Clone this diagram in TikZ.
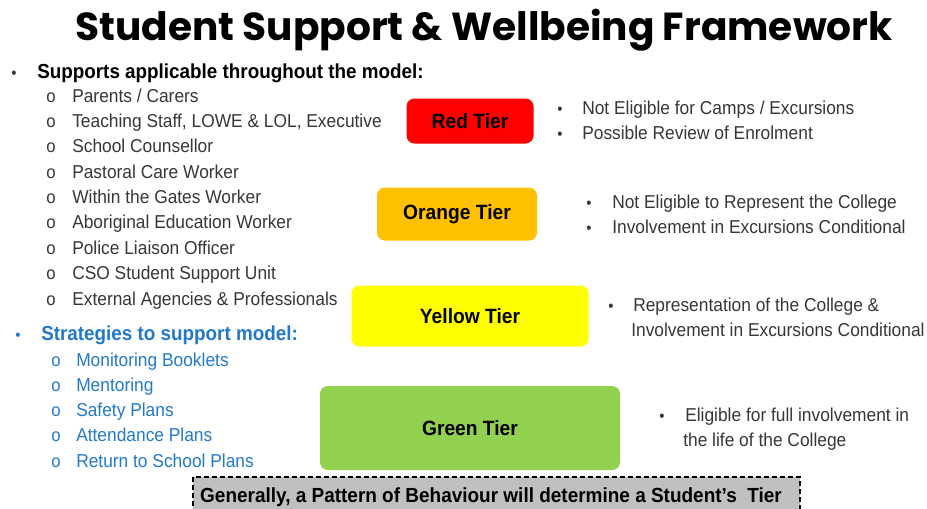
\documentclass[tikz,border=0pt]{standalone}
\usepackage{fontspec}
\setmainfont{Liberation Sans}[FakeStretch=0.93]
\newfontfamily\titlefont{Poppins}
\usetikzlibrary{positioning}
\definecolor{tierred}{HTML}{FF0000}
\definecolor{tierorange}{HTML}{FFC000}
\definecolor{tieryellow}{HTML}{FFFF00}
\definecolor{tiergreen}{HTML}{92D050}
\definecolor{stratblue}{HTML}{2279C8}
\definecolor{itemgrey}{HTML}{363636}
\definecolor{notegrey}{HTML}{C0C0C0}
\tikzset{
  tier/.style={rounded corners=6pt, inner sep=0pt, font=\bfseries\fontsize{15.5}{18}\selectfont},
  item/.style={anchor=base west, inner sep=0pt, font=\fontsize{14}{16}\selectfont, text=itemgrey},
  ring/.style={anchor=base, inner sep=0pt, font=\fontsize{13.5}{15}\selectfont, text=itemgrey},
  dot/.style={anchor=base, inner sep=0pt, font=\fontsize{12}{14}\selectfont, text=itemgrey},
  head/.style={anchor=base west, inner sep=0pt, font=\bfseries\fontsize{15.2}{17}\selectfont}
}
\begin{document}
\begin{tikzpicture}[x=0.75pt,y=-0.75pt]
\useasboundingbox (0,0) rectangle (927,508);
\clip (0,0) rectangle (927,508);

% title
\node (title) at (484,30) {\resizebox{613pt}{!}{\titlefont\bfseries Student Support \& Wellbeing Framework}};

% supports
\node[dot] (supdot) at (14,78) {\textbullet};
\node[head] (suphead) at (37,78) {Supports applicable throughout the model:};
\foreach \txt [count=\i] in {Parents / Carers, {Teaching Staff, LOWE \& LOL, Executive}, School Counsellor,
    Pastoral Care Worker, Within the Gates Worker, Aboriginal Education Worker,
    Police Liaison Officer, CSO Student Support Unit, External Agencies \& Professionals} {
  \pgfmathsetmacro{\y}{97 + (\i-1)*25.375 + 5}
  \node[ring] (supo\i) at (51,\y) {o};
  \node[item] (sup\i) at (72,\y) {\txt};
}

% strategies
\node[dot, text=stratblue] (stratdot) at (18,340) {\textbullet};
\node[head, text=stratblue] (strathead) at (41,340) {Strategies to support model:};
\foreach \txt [count=\i] in {Monitoring Booklets, Mentoring, Safety Plans, Attendance Plans, Return to School Plans} {
  \pgfmathsetmacro{\y}{361 + (\i-1)*25.25 + 5}
  \node[ring, text=stratblue] (strato\i) at (56,\y) {o};
  \node[item, text=stratblue] (strat\i) at (76,\y) {\txt};
}

% tiers
\node[tier, fill=tierred, minimum width=95.25pt, minimum height=33.75pt] (red) at (470,121) {Red Tier};
\node[tier, fill=tierorange, minimum width=120pt, minimum height=39.75pt] (orange) at (457,214) {Orange Tier};
\node[tier, fill=tieryellow, minimum width=177.75pt, minimum height=45.75pt] (yellow) at (470,316) {Yellow Tier};
\node[tier, fill=tiergreen, minimum width=225pt, minimum height=63pt] (green) at (470,428) {Green Tier};

% tier notes
\node[dot] (redo1) at (560,114) {\textbullet};
\node[item] (red1) at (582,114) {Not Eligible for Camps / Excursions};
\node[dot] (redo2) at (560,139) {\textbullet};
\node[item] (red2) at (582,139) {Possible Review of Enrolment};
\node[dot] (orangeo1) at (589,208) {\textbullet};
\node[item] (orange1) at (612,208) {Not Eligible to Represent the College};
\node[dot] (orangeo2) at (589,233) {\textbullet};
\node[item] (orange2) at (612,233) {Involvement in Excursions Conditional};
\node[dot] (yellowo1) at (611,311) {\textbullet};
\node[item] (yellow1) at (633,311) {Representation of the College \&};
\node[item] (yellow2) at (631,336) {Involvement in Excursions Conditional};
\node[dot] (greeno1) at (662,421) {\textbullet};
\node[item] (green1) at (685,421) {Eligible for full involvement in};
\node[item] (green2) at (683,446) {the life of the College};

% pattern note
\draw[fill=notegrey, line width=1.5pt, dash pattern=on 4pt off 2pt] (193,477) rectangle (800,530);
\node[inner sep=0pt, font=\bfseries\fontsize{15.3}{18}\selectfont, anchor=base] (pattern) at (491,502)
  {Generally, a Pattern of Behaviour will determine a Student’s~~Tier};
\end{tikzpicture}
\end{document}
